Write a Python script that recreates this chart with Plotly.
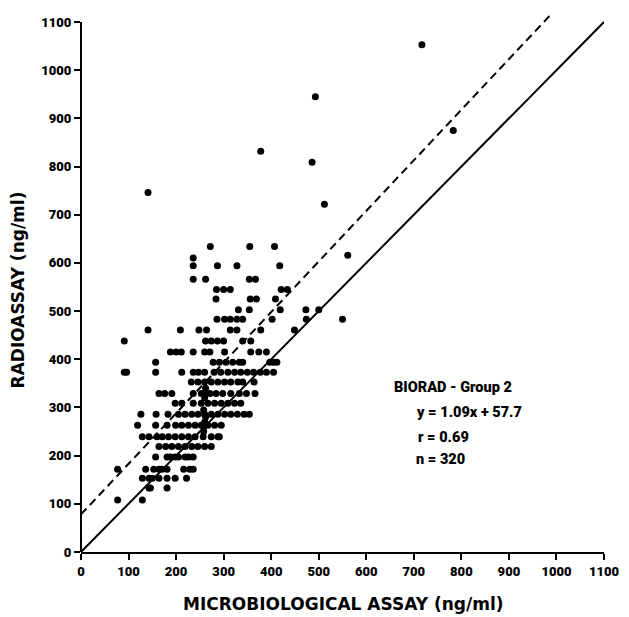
import plotly.graph_objects as go

# ---- data (ng/ml) ----
row_levels = [634, 610, 594, 566, 545, 525, 503, 483, 461, 438, 415, 394, 373,
              353, 329, 309, 286, 263, 239, 219, 197, 172, 153, 133, 108]
row_x = [
    [272, 355, 407],
    [236],
    [236, 287, 328, 418],
    [236, 262, 354, 367],
    [285, 300, 314, 421, 434],
    [284, 356, 369, 409],
    [331, 354, 419, 473, 500],
    [286, 302, 314, 328, 340, 402, 474, 550],
    [141, 209, 248, 264, 314, 328, 378, 449],
    [91, 262, 274, 287, 300, 340, 357],
    [188, 200, 211, 236, 260, 271, 302, 357, 374, 390],
    [157, 278, 291, 305, 319, 333, 340, 397, 405, 412],
    [91, 96, 157, 212, 236, 247, 260, 280, 294, 309, 323, 336, 350, 363, 377, 390, 405],
    [232, 246, 260, 274, 288, 302, 315, 330, 340, 364],
    [164, 176, 191, 236, 253, 262, 271, 284, 298, 315, 333, 348, 366],
    [198, 212, 236, 253, 267, 281, 295, 309, 323, 336],
    [126, 158, 183, 205, 219, 233, 246, 260, 274, 288, 302, 315, 329, 343, 354],
    [119, 157, 181, 199, 212, 226, 240, 253, 267, 281, 295],
    [129, 143, 160, 171, 184, 198, 212, 226, 240, 257, 274, 288, 291],
    [164, 178, 191, 205, 219, 233, 246, 260, 274],
    [157, 181, 188, 198, 205, 219, 226, 236],
    [77, 136, 153, 164, 170, 181, 216, 229, 236],
    [129, 143, 150, 164, 181, 198, 222],
    [143, 146, 181],
    [77, 129],
]
extra_x = [717, 783, 493, 378, 486, 512, 141, 561, 258, 260, 262, 258, 260, 262, 258]
extra_y = [1053, 875, 945, 832, 809, 722, 746, 616, 250, 270, 280, 295, 320, 340, 260]

microbio = [x for xs in row_x for x in xs] + extra_x
radio = [lvl for xs, lvl in zip(row_x, row_levels) for _ in xs] + extra_y

reg_slope, reg_intercept = 1.05, 78.0   # dashed line as drawn
reg_x_end = 990
ident_end = 1100

tick_vals = list(range(0, 1101, 100))
tick_text = [str(v) for v in tick_vals]

fig = go.Figure()
fig.add_trace(go.Scatter(x=[0, ident_end], y=[0, ident_end], mode="lines",
                         line=dict(color="black", width=2), hoverinfo="skip"))
fig.add_trace(go.Scatter(x=[0, reg_x_end],
                         y=[reg_intercept, reg_slope * reg_x_end + reg_intercept],
                         mode="lines", line=dict(color="black", width=2, dash="8px,5px"),
                         hoverinfo="skip"))
fig.add_trace(go.Scatter(x=microbio, y=radio, mode="markers",
                         marker=dict(color="black", size=7, line=dict(width=0))))

tickfont = dict(family="Roboto", size=13, color="black", weight=900)
fig.update_layout(
    width=629, height=617,
    margin=dict(l=81, r=17, t=10, b=65),
    paper_bgcolor="white", plot_bgcolor="white",
    showlegend=False,
    xaxis=dict(range=[0, 1100], tickvals=tick_vals, ticktext=tick_text,
               showgrid=False, zeroline=False, showline=True, linecolor="black",
               linewidth=2, ticks="outside", ticklen=6, tickwidth=1.5, tickcolor="black",
               tickfont=tickfont),
    yaxis=dict(range=[0, 1125], tickvals=tick_vals, ticktext=tick_text,
               showgrid=False, zeroline=False, showline=False,
               ticks="outside", ticklen=6, tickwidth=1.5, tickcolor="black",
               tickfont=tickfont),
    shapes=[dict(type="line", xref="paper", yref="y", x0=0, x1=0, y0=0, y1=1100,
                 line=dict(color="black", width=2))],
)

title_font = dict(family="DejaVu Sans", size=17, color="black", weight="bold")
fig.add_annotation(text="MICROBIOLOGICAL ASSAY (ng/ml)", xref="paper", yref="paper",
                   x=0.501, y=-0.096, showarrow=False, font=title_font,
                   xanchor="center", yanchor="middle")
fig.add_annotation(text="RADIOASSAY (ng/ml)", xref="paper", yref="paper",
                   x=-0.12, y=0.483, showarrow=False, font=title_font, textangle=-90,
                   xanchor="center", yanchor="middle")
ann_font = dict(family="Roboto", size=14.5, color="black", weight=900)
for txt, px, py in [("BIORAD - Group 2", 0.595, 0.304),
                    ("y = 1.09x + 57.7", 0.636, 0.257),
                    ("r = 0.69", 0.640, 0.212),
                    ("n = 320", 0.636, 0.170)]:
    fig.add_annotation(text=txt, xref="paper", yref="paper", x=px, y=py,
                       showarrow=False, font=ann_font, xanchor="left", yanchor="middle")

fig.write_html("out.html")
